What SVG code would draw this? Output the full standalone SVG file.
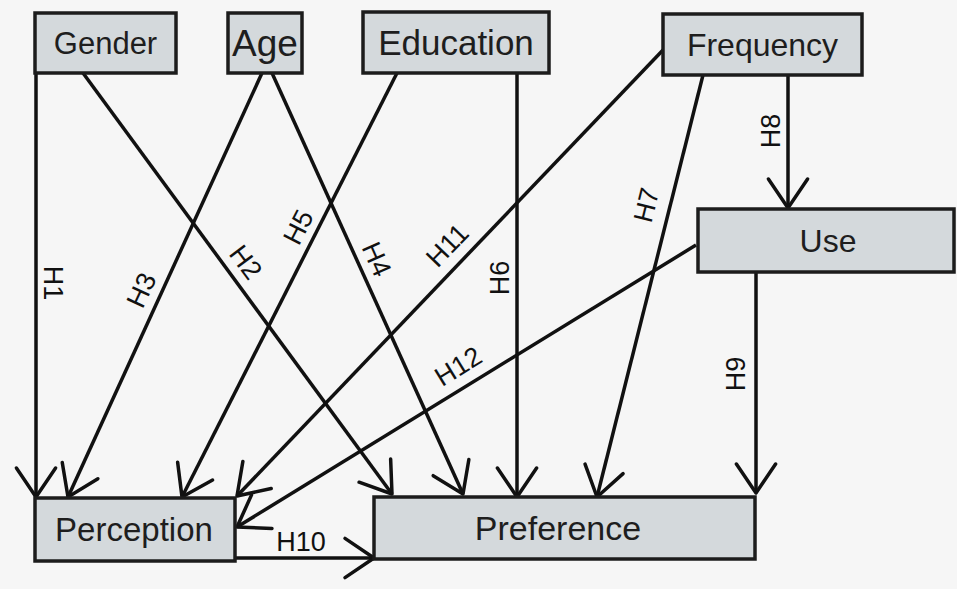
<svg xmlns="http://www.w3.org/2000/svg" width="957" height="589" viewBox="0 0 957 589">
<style>
.box{fill:#d4d9dc;stroke:#1c1c1c;stroke-width:3.5}
.t{font-family:"Liberation Sans",Arial,sans-serif;fill:#1e1e1e;text-anchor:middle}
.lbl{font-family:"Liberation Sans",Arial,sans-serif;fill:#111;font-size:27px;text-anchor:middle}
.c{stroke:#111;stroke-width:3.5;fill:none;marker-end:url(#arr)}
</style>
<defs>
<marker id="arr" markerUnits="userSpaceOnUse" markerWidth="60" markerHeight="60" viewBox="-40 -30 60 60" refX="0" refY="0" orient="auto" overflow="visible">
<path d="M-29,-19.6 L0,0 L-29,19.6" fill="none" stroke="#111" stroke-width="3.5" stroke-linejoin="round" stroke-linecap="round"/>
</marker>
</defs>
<rect width="957" height="589" fill="#f6f6f6"/>
<g id="connectors">
<line class="c" x1="36" y1="73" x2="36" y2="497"/>
<line class="c" x1="83" y1="73" x2="392" y2="494"/>
<line class="c" x1="262" y1="73" x2="68" y2="497"/>
<line class="c" x1="272" y1="73" x2="463" y2="494"/>
<line class="c" x1="397" y1="73" x2="182" y2="497"/>
<line class="c" x1="517" y1="73" x2="517" y2="497"/>
<line class="c" x1="703" y1="75" x2="597" y2="497"/>
<line class="c" x1="788" y1="75" x2="788" y2="208"/>
<line class="c" x1="756" y1="272" x2="756" y2="493"/>
<line class="c" x1="235" y1="558" x2="374" y2="558"/>
<line class="c" x1="663" y1="50" x2="237" y2="496"/>
<line class="c" x1="696" y1="245" x2="237" y2="527"/>
<g id="labels">
<text class="lbl" transform="translate(54,283) rotate(90)" y="9.6">H1</text>
<text class="lbl" transform="translate(246,262) rotate(53)" y="9.6">H2</text>
<text class="lbl" transform="translate(141,290) rotate(-65)" y="9.6">H3</text>
<text class="lbl" transform="translate(377,259) rotate(66)" y="9.6">H4</text>
<text class="lbl" transform="translate(298,227) rotate(-63)" y="9.6">H5</text>
<text class="lbl" transform="translate(499,278) rotate(-90)" y="9.6">H6</text>
<text class="lbl" transform="translate(646,205) rotate(-76)" y="9.6">H7</text>
<text class="lbl" transform="translate(770,131) rotate(-90)" y="9.6">H8</text>
<text class="lbl" transform="translate(735,374) rotate(-90)" y="9.6">H9</text>
<text class="lbl" transform="translate(301,541)" y="9.6">H10</text>
<text class="lbl" transform="translate(447,245) rotate(-46)" y="9.6">H11</text>
<text class="lbl" transform="translate(458,366) rotate(-31.5)" y="9.6">H12</text>
</g>
</g>
<g id="gender"><rect class="box" x="35" y="13" width="141" height="60"/><text class="t" x="105.5" y="54" font-size="31">Gender</text></g>
<g id="age"><rect class="box" x="228" y="13" width="74" height="60"/><text class="t" x="265" y="56" font-size="37">Age</text></g>
<g id="education"><rect class="box" x="363" y="12" width="186" height="61"/><text class="t" x="456" y="55" font-size="35">Education</text></g>
<g id="frequency"><rect class="box" x="663" y="14" width="199" height="61"/><text class="t" x="762.5" y="56" font-size="32">Frequency</text></g>
<g id="use"><rect class="box" x="698" y="209" width="256" height="63"/><text class="t" x="828" y="252" font-size="32">Use</text></g>
<g id="perception"><rect class="box" x="35" y="498" width="200" height="63"/><text class="t" x="134" y="541" font-size="33">Perception</text></g>
<g id="preference"><rect class="box" x="374" y="497" width="381" height="62"/><text class="t" x="558" y="540" font-size="34">Preference</text></g>
</svg>
